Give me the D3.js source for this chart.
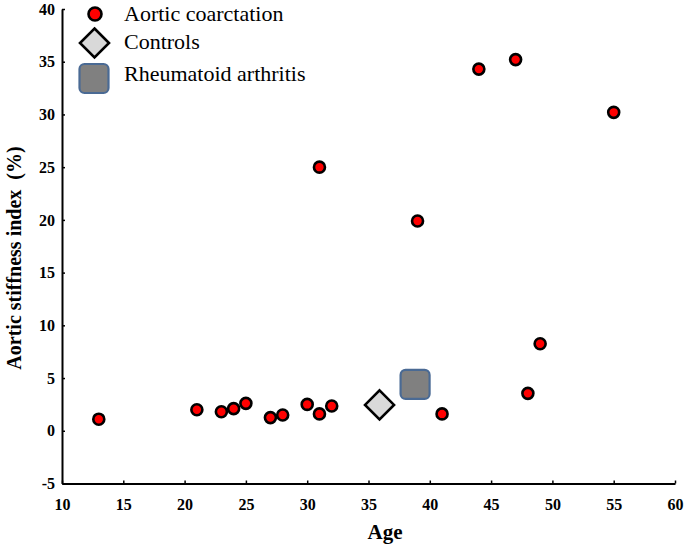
<!DOCTYPE html>
<html><head><meta charset="utf-8">
<script src="https://cdn.jsdelivr.net/npm/d3@7"></script>
<style>body{margin:0;background:#fff}svg{display:block}
svg text{font-family:"Liberation Serif","Times New Roman","DejaVu Serif",serif}</style>
</head><body>
<svg id="c" width="685" height="547"></svg>
<script>
const coarctAge   = [13, 21, 23, 24, 25, 27, 28, 30, 31, 32, 31, 39, 41, 44, 47, 48, 49, 55];
const coarctIndex = [1.1, 2.0, 1.8, 2.1, 2.6, 1.25, 1.5, 2.5, 1.6, 2.35, 25.0, 19.9, 1.6, 34.3, 35.2, 3.55, 8.25, 30.2];
const controlAge   = [35.9];
const controlIndex = [2.45];
const raAge   = [38.8];
const raIndex = [4.4];
const xTicks = [10, 15, 20, 25, 30, 35, 40, 45, 50, 55, 60];
const yTicks = [-5, 0, 5, 10, 15, 20, 25, 30, 35, 40];
const legendLabels = ["Aortic coarctation", "Controls", "Rheumatoid arthritis"];

const svg = d3.select("#c");
const x = d3.scaleLinear().domain([10, 60]).range([62, 675]);
const y = d3.scaleLinear().domain([-5, 40]).range([483.5, 9]);
const serif = '"Liberation Serif","Times New Roman","DejaVu Serif",serif';

const xa = svg.append("g").attr("transform", "translate(0," + y(-5) + ")")
  .call(d3.axisBottom(x).tickValues(xTicks).tickFormat(d => String(d))
    .tickSizeInner(-3).tickSizeOuter(0).tickPadding(15));
const ya = svg.append("g").attr("transform", "translate(" + x(10) + ",0)")
  .call(d3.axisLeft(y).tickValues(yTicks).tickFormat(d => String(d))
    .tickSizeInner(-3).tickSizeOuter(0).tickPadding(7));
[xa, ya].forEach(g => {
  g.attr("font-family", null);
  g.select(".domain").attr("stroke", "#000").attr("stroke-width", 2);
  g.selectAll(".tick line").attr("stroke", "#000").attr("stroke-width", 1.5);
  g.selectAll("text").style("font-family", serif).attr("font-weight", "bold")
    .attr("font-size", 16).attr("fill", "#000");
});

svg.append("text").attr("x", 385).attr("y", 539).attr("text-anchor", "middle")
  .style("font-family", serif).attr("font-weight", "bold").attr("font-size", 21).text("Age");
svg.append("text").attr("transform", "translate(21,258) rotate(-90)").attr("text-anchor", "middle")
  .style("font-family", serif).attr("font-weight", "bold").attr("font-size", 20)
  .style("white-space", "pre").text("Aortic stiffness index  (%)");

const pts = coarctAge.map((a, i) => ({a, v: coarctIndex[i]}));
svg.append("g").selectAll("circle").data(pts).join("circle")
  .attr("cx", d => x(d.a)).attr("cy", d => y(d.v)).attr("r", 5.5)
  .attr("fill", "#ff0000").attr("stroke", "#000").attr("stroke-width", 2.6);

const diamond = (cx, cy, h) => `M${cx},${cy-h}L${cx+h},${cy}L${cx},${cy+h}L${cx-h},${cy}Z`;
svg.append("g").selectAll("path").data(controlAge.map((a, i) => ({a, v: controlIndex[i]}))).join("path")
  .attr("d", d => diamond(x(d.a), y(d.v), 14.5))
  .attr("fill", "#d9d9d9").attr("stroke", "#000").attr("stroke-width", 2.6).attr("stroke-linejoin", "miter");

svg.append("g").selectAll("rect").data(raAge.map((a, i) => ({a, v: raIndex[i]}))).join("rect")
  .attr("x", d => x(d.a) - 14.5).attr("y", d => y(d.v) - 14.5).attr("width", 29).attr("height", 29)
  .attr("rx", 5).attr("fill", "#808080").attr("stroke", "#4a6a94").attr("stroke-width", 2.2);

// legend
const lg = svg.append("g");
lg.append("circle").attr("cx", 95).attr("cy", 14).attr("r", 6.5)
  .attr("fill", "#ff0000").attr("stroke", "#000").attr("stroke-width", 2.6);
lg.append("path").attr("d", diamond(94.5, 43, 14.5))
  .attr("fill", "#d9d9d9").attr("stroke", "#000").attr("stroke-width", 2.6);
lg.append("rect").attr("x", 79.5).attr("y", 64).attr("width", 29).attr("height", 29).attr("rx", 5)
  .attr("fill", "#808080").attr("stroke", "#4a6a94").attr("stroke-width", 2.2);
const ly = [21, 49, 81];
legendLabels.forEach((t, i) => {
  lg.append("text").attr("x", 124).attr("y", ly[i]).style("font-family", serif)
    .attr("font-size", 22).attr("fill", "#000").text(t);
});
</script>
</body></html>
